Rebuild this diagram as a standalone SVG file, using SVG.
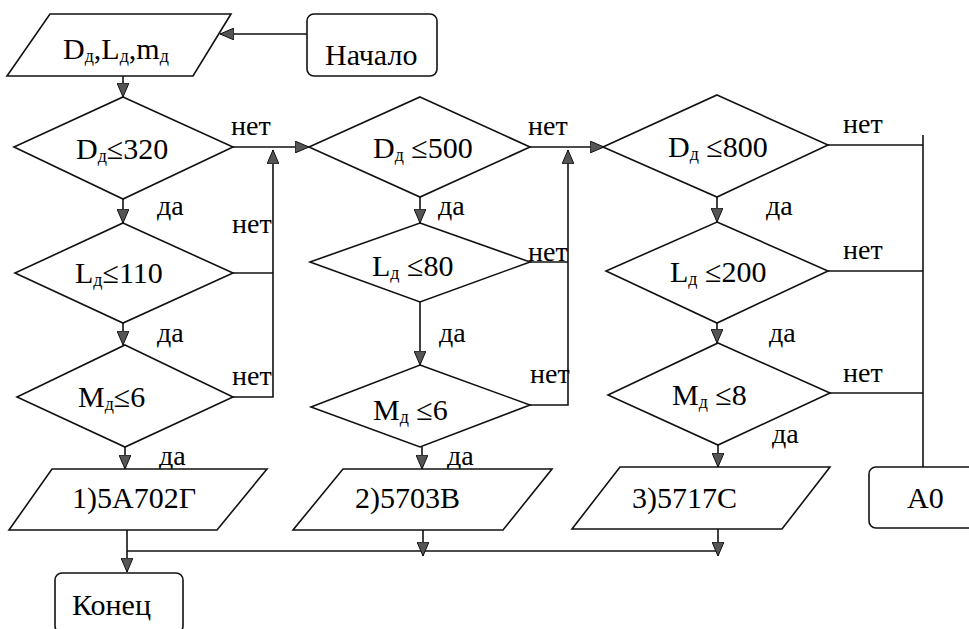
<svg xmlns="http://www.w3.org/2000/svg" width="969" height="629" viewBox="0 0 969 629">
<defs>
<marker id="a" viewBox="0 0 14 12" refX="14" refY="6" markerWidth="14" markerHeight="12" markerUnits="userSpaceOnUse" orient="auto">
<path d="M0,0 L14,6 L0,12 z" fill="#555" stroke="#111" stroke-width="1"/>
</marker>
</defs>
<rect width="969" height="629" fill="#fff"/>
<g id="connectors">
<g fill="none" stroke="#111" stroke-width="1.6">
<line x1="307" y1="34" x2="220" y2="34" marker-end="url(#a)"/>
<line x1="123" y1="76" x2="123" y2="97" marker-end="url(#a)"/>
<line x1="123" y1="199" x2="123" y2="223" marker-end="url(#a)"/>
<line x1="123" y1="323" x2="123" y2="345" marker-end="url(#a)"/>
<line x1="125" y1="447" x2="125" y2="469" marker-end="url(#a)"/>
<line x1="233" y1="147" x2="309" y2="147" marker-end="url(#a)"/>
<line x1="233" y1="273" x2="273" y2="273"/>
<polyline points="233,397 273,397 273,150" marker-end="url(#a)"/>
<line x1="420" y1="197" x2="420" y2="223" marker-end="url(#a)"/>
<line x1="420" y1="302" x2="420" y2="365" marker-end="url(#a)"/>
<line x1="422" y1="447" x2="422" y2="469" marker-end="url(#a)"/>
<line x1="530" y1="147" x2="604" y2="147" marker-end="url(#a)"/>
<line x1="530" y1="262" x2="568" y2="262"/>
<polyline points="530,405 568,405 568,150" marker-end="url(#a)"/>
<line x1="717" y1="197" x2="717" y2="222" marker-end="url(#a)"/>
<line x1="717" y1="323" x2="717" y2="343" marker-end="url(#a)"/>
<line x1="718" y1="445" x2="718" y2="467" marker-end="url(#a)"/>
<line x1="828" y1="145" x2="923" y2="145"/>
<line x1="923" y1="135" x2="923" y2="467"/>
<line x1="828" y1="271" x2="923" y2="271"/>
<line x1="830" y1="393" x2="923" y2="393"/>
<line x1="127" y1="530" x2="127" y2="572" marker-end="url(#a)"/>
<line x1="127" y1="551" x2="718" y2="551"/>
<line x1="423" y1="530" x2="423" y2="556" marker-end="url(#a)"/>
<line x1="718" y1="529" x2="718" y2="556" marker-end="url(#a)"/>
</g>
<text x="231" y="135" font-family="Liberation Serif" font-size="28">нет</text>
<text x="157" y="215" font-family="Liberation Serif" font-size="28">да</text>
<text x="232" y="233" font-family="Liberation Serif" font-size="28">нет</text>
<text x="157" y="342" font-family="Liberation Serif" font-size="28">да</text>
<text x="232" y="385" font-family="Liberation Serif" font-size="28">нет</text>
<text x="159" y="465" font-family="Liberation Serif" font-size="28">да</text>
<text x="528" y="135" font-family="Liberation Serif" font-size="28">нет</text>
<text x="438" y="215" font-family="Liberation Serif" font-size="28">да</text>
<text x="528" y="261" font-family="Liberation Serif" font-size="28">нет</text>
<text x="439" y="342" font-family="Liberation Serif" font-size="28">да</text>
<text x="530" y="383" font-family="Liberation Serif" font-size="28">нет</text>
<text x="447" y="465" font-family="Liberation Serif" font-size="28">да</text>
<text x="843" y="133" font-family="Liberation Serif" font-size="28">нет</text>
<text x="766" y="215" font-family="Liberation Serif" font-size="28">да</text>
<text x="843" y="259" font-family="Liberation Serif" font-size="28">нет</text>
<text x="769" y="342" font-family="Liberation Serif" font-size="28">да</text>
<text x="843" y="382" font-family="Liberation Serif" font-size="28">нет</text>
<text x="772" y="443" font-family="Liberation Serif" font-size="28">да</text>
</g>
<g id="start">
<rect x="307" y="14" width="130" height="62" rx="7" fill="#fff" stroke="#111" stroke-width="1.6"/>
<text x="325" y="65" font-family="Liberation Serif" font-size="30">Начало</text>
</g>
<g id="input">
<polygon points="50,14 231,14 193,76 7,76" fill="#fff" stroke="#111" stroke-width="1.6"/>
<text x="63" y="59" font-family="Liberation Serif" font-size="30">D<tspan font-size="18" dy="3">д</tspan><tspan dy="-3">,L</tspan><tspan font-size="18" dy="3">д</tspan><tspan dy="-3">,m</tspan><tspan font-size="18" dy="3">д</tspan></text>
</g>
<g id="d1">
<polygon points="123,97 233,147 123,199 14,147" fill="#fff" stroke="#111" stroke-width="1.6"/>
<text x="76" y="159" font-family="Liberation Serif" font-size="30">D<tspan font-size="18" dy="3">д</tspan><tspan dy="-3">≤320</tspan></text>
</g>
<g id="l1">
<polygon points="123,223 233,273 123,323 15,273" fill="#fff" stroke="#111" stroke-width="1.6"/>
<text x="75" y="283" font-family="Liberation Serif" font-size="30">L<tspan font-size="18" dy="3">д</tspan><tspan dy="-3">≤110</tspan></text>
</g>
<g id="m1">
<polygon points="125,345 233,397 125,447 17,397" fill="#fff" stroke="#111" stroke-width="1.6"/>
<text x="78" y="407" font-family="Liberation Serif" font-size="30">M<tspan font-size="18" dy="3">д</tspan><tspan dy="-3">≤6</tspan></text>
</g>
<g id="p1">
<polygon points="52,469 267,469 217,530 9,530" fill="#fff" stroke="#111" stroke-width="1.6"/>
<text x="72" y="508" font-family="Liberation Serif" font-size="30">1)5A702Г</text>
</g>
<g id="d2">
<polygon points="420,97 530,147 420,197 309,147" fill="#fff" stroke="#111" stroke-width="1.6"/>
<text x="373" y="158" font-family="Liberation Serif" font-size="30">D<tspan font-size="18" dy="3">д</tspan><tspan dy="-3"> ≤500</tspan></text>
</g>
<g id="l2">
<polygon points="420,223 530,262 420,302 310,262" fill="#fff" stroke="#111" stroke-width="1.6"/>
<text x="372" y="276" font-family="Liberation Serif" font-size="30">L<tspan font-size="18" dy="3">д</tspan><tspan dy="-3"> ≤80</tspan></text>
</g>
<g id="m2">
<polygon points="420,365 530,405 420,447 311,407" fill="#fff" stroke="#111" stroke-width="1.6"/>
<text x="373" y="420" font-family="Liberation Serif" font-size="30">M<tspan font-size="18" dy="3">д</tspan><tspan dy="-3"> ≤6</tspan></text>
</g>
<g id="p2">
<polygon points="343,469 552,469 503,530 293,530" fill="#fff" stroke="#111" stroke-width="1.6"/>
<text x="355" y="508" font-family="Liberation Serif" font-size="30">2)5703B</text>
</g>
<g id="d3">
<polygon points="717,95 828,145 717,197 603,147" fill="#fff" stroke="#111" stroke-width="1.6"/>
<text x="668" y="157" font-family="Liberation Serif" font-size="30">D<tspan font-size="18" dy="3">д</tspan><tspan dy="-3"> ≤800</tspan></text>
</g>
<g id="l3">
<polygon points="717,222 828,271 717,323 606,271" fill="#fff" stroke="#111" stroke-width="1.6"/>
<text x="670" y="282" font-family="Liberation Serif" font-size="30">L<tspan font-size="18" dy="3">д</tspan><tspan dy="-3"> ≤200</tspan></text>
</g>
<g id="m3">
<polygon points="718,343 830,393 718,445 608,395" fill="#fff" stroke="#111" stroke-width="1.6"/>
<text x="672" y="405" font-family="Liberation Serif" font-size="30">M<tspan font-size="18" dy="3">д</tspan><tspan dy="-3"> ≤8</tspan></text>
</g>
<g id="p3">
<polygon points="620,467 830,467 782,529 572,529" fill="#fff" stroke="#111" stroke-width="1.6"/>
<text x="632" y="508" font-family="Liberation Serif" font-size="30">3)5717C</text>
</g>
<g id="a0">
<rect x="869" y="467" width="106" height="61" rx="7" fill="#fff" stroke="#111" stroke-width="1.6"/>
<text x="907" y="508" font-family="Liberation Serif" font-size="30">A0</text>
</g>
<g id="end">
<rect x="55" y="573" width="128" height="60" rx="7" fill="#fff" stroke="#111" stroke-width="1.6"/>
<text x="72" y="615" font-family="Liberation Serif" font-size="30">Конец</text>
</g>
</svg>
